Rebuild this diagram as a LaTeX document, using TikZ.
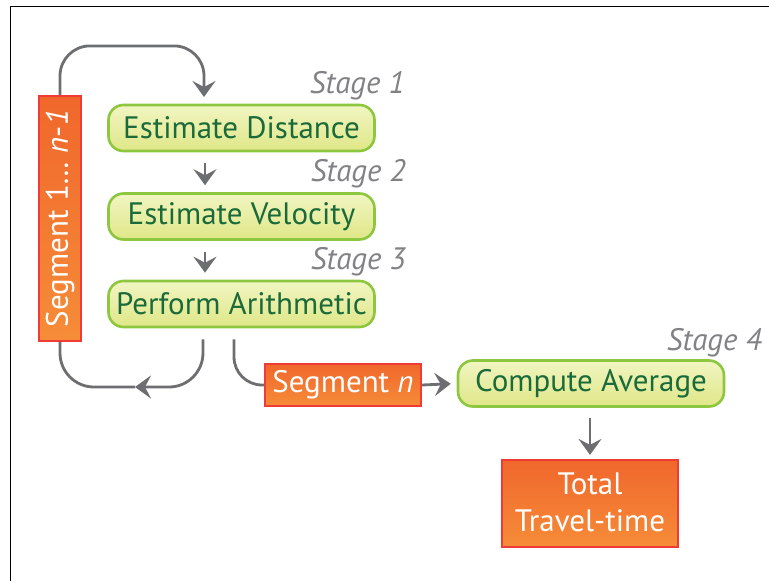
\documentclass[tikz,border=0pt]{standalone}
\usepackage{fontspec}
\setmainfont{PT Sans}
\usetikzlibrary{arrows.meta}
\definecolor{stageframe}{HTML}{8DC63F}
\definecolor{stagetop}{HTML}{F1F5C2}
\definecolor{stagebot}{HTML}{DFE787}
\definecolor{stageink}{HTML}{1B6B3A}
\definecolor{segtop}{HTML}{F0672C}
\definecolor{segbot}{HTML}{F68C38}
\definecolor{segframe}{HTML}{EE3B35}
\definecolor{flowgray}{HTML}{6D6E71}
\definecolor{labelgray}{HTML}{808285}
\tikzset{
  stagebox/.style={draw=stageframe, line width=2.6pt, rounded corners=15pt,
    top color=stagetop, bottom color=stagebot, text=stageink,
    minimum width=266pt, minimum height=46pt, inner sep=0pt,
    font=\fontsize{31}{36}\selectfont},
  segbox/.style={draw=segframe, line width=2.2pt,
    top color=segtop, bottom color=segbot, text=white, inner sep=0pt,
    font=\fontsize{31}{36}\selectfont},
  stagelabel/.style={text=labelgray, anchor=east, inner sep=0pt,
    font=\fontsize{31}{36}\selectfont\itshape},
  flow/.style={draw=flowgray, line width=2.8pt,
    -{Stealth[length=16pt,width=23pt,inset=6pt]}},
  flowline/.style={draw=flowgray, line width=2.8pt},
}
\begin{document}
\begin{tikzpicture}[x=1pt,y=-1pt]
\useasboundingbox (0,0) rectangle (769,581);
% frame
\draw[line width=1pt] (769,6) -- (10,6) -- (10,581);

% processing stages
\node[stagebox] (dist) at (241.5,128) {Estimate Distance};
\node[stagebox] (velo) at (241.5,216.5) {Estimate Velocity};
\node[stagebox] (arith) at (241.5,304) {Perform Arithmetic};
\node[stagebox] (avg) at (591,383.5) {Compute Average};

\node[stagelabel] (s1) at (405,86) {Stage 1};
\node[stagelabel] (s2) at (406,174) {Stage 2};
\node[stagelabel] (s3) at (406,262) {Stage 3};
\node[stagelabel] (s4) at (762,343) {Stage 4};

% segments and result
\node[segbox, rotate=90, minimum width=245pt, minimum height=42pt]
  (segloop) at (60,218.5) {Segment 1\dots\ \textit{n}-\textit{1}};
\node[segbox, minimum width=156pt, minimum height=42pt]
  (segn) at (343,385) {Segment \textit{n}};
\node[segbox, minimum width=176pt, minimum height=87pt, align=center,
  font=\fontsize{31}{37}\selectfont]
  (total) at (590,503.5) {\raisebox{3pt}{Total}\\\raisebox{3pt}{Travel-time}};

% end points of the loop connectors
\coordinate (loopin) at (204,97);
\coordinate (loopjoin) at (135,387);

% stage-to-stage flow
\draw[flow] ([xshift=-36.5pt,yshift=-11pt]dist.south) -- ([xshift=-36.5pt,yshift=7pt]velo.north);
\draw[flow] ([xshift=-36.5pt,yshift=-11pt]velo.south) -- ([xshift=-36.5pt,yshift=7pt]arith.north);

% repeat for segments 1 ... n-1
\draw[flow, rounded corners=30pt] (segloop.east) -- ++(0,-49) -| (loopin);
\draw[flowline, rounded corners=34pt] (segloop.west) |- (loopjoin);
\draw[flow, rounded corners=34pt] ([xshift=-38.5pt,yshift=-11pt]arith.south) |- (loopjoin);

% last segment
\draw[flowline, rounded corners=28pt] ([xshift=-7.5pt,yshift=-11pt]arith.south) |- (segn.west);
\draw[flow, shorten >=6pt] (segn.east) -- (avg.west);
\draw[flow, shorten <=10pt, shorten >=4pt] (avg.south -| total.north) -- (total.north);
\end{tikzpicture}
\end{document}
